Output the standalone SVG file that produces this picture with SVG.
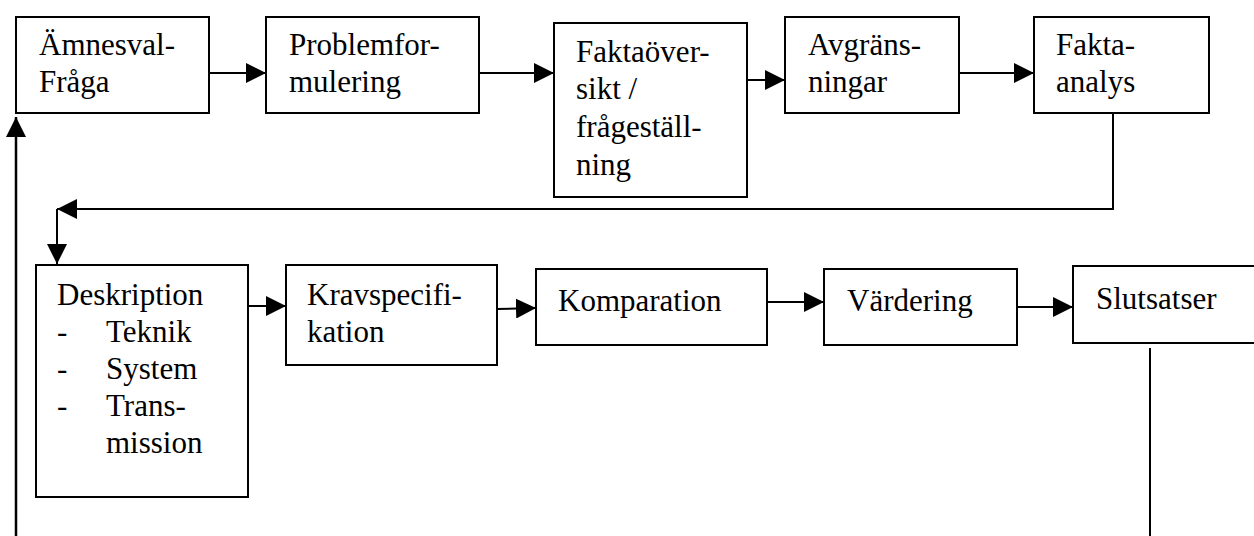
<svg xmlns="http://www.w3.org/2000/svg" width="1254" height="536" viewBox="0 0 1254 536">
<style>
.box{fill:#fff;stroke:#000;stroke-width:2}
.t{font-family:"Liberation Serif","Times New Roman",serif;font-size:31px;fill:#000}
.c{fill:none;stroke:#000;stroke-width:2}
</style>
<defs>
<marker id="ah" markerUnits="userSpaceOnUse" markerWidth="20" markerHeight="20" refX="20" refY="10" orient="auto">
<path d="M0,0 L20,10 L0,20 Z" fill="#000"/>
</marker>
</defs>
<rect width="1254" height="536" fill="#fff"/>
<g id="connectors">
<path class="c" d="M209,73 H266" marker-end="url(#ah)"/>
<path class="c" d="M479,73 H554" marker-end="url(#ah)"/>
<path class="c" d="M747,80 H785" marker-end="url(#ah)"/>
<path class="c" d="M959,73 H1034" marker-end="url(#ah)"/>
<path class="c" d="M1113,113 V209 H57" marker-end="url(#ah)"/>
<path class="c" d="M57,209 V264" marker-end="url(#ah)"/>
<path class="c" d="M228,306 H286" marker-end="url(#ah)"/>
<path class="c" d="M497,309 L536,308" marker-end="url(#ah)"/>
<path class="c" d="M767,302 H824" marker-end="url(#ah)"/>
<path class="c" d="M1017,307 H1073" marker-end="url(#ah)"/>
<path class="c" d="M1150,348 V536"/>
<path class="c" style="stroke-width:2.5" d="M16,536 V117" marker-end="url(#ah)"/>
</g>
<g id="n1"><rect class="box" x="16" y="17" width="193" height="96"/>
<text class="t" x="39" y="55">Ämnesval-</text><text class="t" x="39" y="92">Fråga</text></g>
<g id="n2"><rect class="box" x="266" y="17" width="213" height="96"/>
<text class="t" x="289" y="55">Problemfor-</text><text class="t" x="289" y="92">mulering</text></g>
<g id="n3"><rect class="box" x="554" y="23" width="193" height="174"/>
<text class="t" x="576" y="62">Faktaöver-</text><text class="t" x="576" y="99">sikt /</text><text class="t" x="576" y="137">frågeställ-</text><text class="t" x="576" y="175">ning</text></g>
<g id="n4"><rect class="box" x="785" y="17" width="174" height="96"/>
<text class="t" x="808" y="55">Avgräns-</text><text class="t" x="808" y="92">ningar</text></g>
<g id="n5"><rect class="box" x="1034" y="17" width="175" height="96"/>
<text class="t" x="1056" y="55">Fakta-</text><text class="t" x="1056" y="92">analys</text></g>
<g id="n6"><rect class="box" x="36" y="265" width="212" height="232"/>
<text class="t" x="57" y="305">Deskription</text>
<text class="t" x="57" y="342">-</text><text class="t" x="106" y="342">Teknik</text>
<text class="t" x="57" y="379">-</text><text class="t" x="106" y="379">System</text>
<text class="t" x="57" y="416">-</text><text class="t" x="106" y="416">Trans-</text>
<text class="t" x="106" y="453">mission</text></g>
<g id="n7"><rect class="box" x="286" y="265" width="211" height="100"/>
<text class="t" x="307" y="305">Kravspecifi-</text><text class="t" x="307" y="342">kation</text></g>
<g id="n8"><rect class="box" x="536" y="269" width="231" height="76"/>
<text class="t" x="558" y="311">Komparation</text></g>
<g id="n9"><rect class="box" x="824" y="269" width="193" height="76"/>
<text class="t" x="847" y="311">Värdering</text></g>
<g id="n10"><rect class="box" x="1073" y="266" width="190" height="77"/>
<text class="t" x="1096" y="309">Slutsatser</text></g>
</svg>
